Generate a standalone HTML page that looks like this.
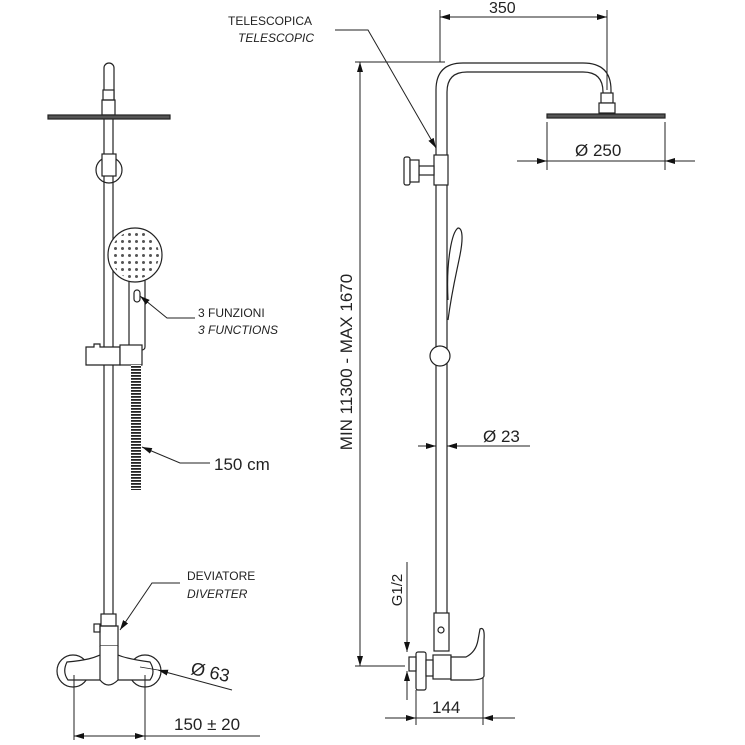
<!DOCTYPE html>
<html><head><meta charset="utf-8"><style>
html,body{margin:0;padding:0;background:#fff;width:745px;height:745px;overflow:hidden}
svg{display:block}
text{font-family:"Liberation Sans",sans-serif;fill:#222}
</style></head><body>
<svg width="745" height="745" viewBox="0 0 745 745" xmlns="http://www.w3.org/2000/svg">
<defs>
<marker id="a" viewBox="0 0 10 6" refX="10" refY="3" markerWidth="10" markerHeight="6" orient="auto-start-reverse" markerUnits="userSpaceOnUse"><path d="M0,0 L10,3 L0,6 z" fill="#111"/></marker>
<pattern id="hose" width="10" height="3" patternUnits="userSpaceOnUse"><rect width="10" height="3" fill="#fff"/><rect width="10" height="1.8" fill="#222"/></pattern>
<pattern id="dots" width="7" height="7" patternUnits="userSpaceOnUse"><circle cx="3.5" cy="3.5" r="1.5" fill="#555"/></pattern>
</defs>
<g fill="none" stroke="#222" stroke-width="1.2">
<path d="M104,100 V68 a5,5 0 0 1 10,0 V100"/>
<rect x="103" y="90" width="11" height="10" fill="#fff"/>
<rect x="102" y="100" width="13" height="15"/>
<rect x="48" y="115" width="122" height="4" fill="#555"/>
<line x1="104" y1="119" x2="104" y2="620"/>
<line x1="113" y1="119" x2="113" y2="620"/>
<circle cx="109" cy="170" r="13" fill="none"/>
<rect x="102" y="154" width="14" height="22" fill="#fff"/>
<rect x="129" y="278" width="16" height="72" rx="3" fill="#fff"/>
<rect x="134" y="290" width="6" height="12" rx="3"/>
<circle cx="135" cy="255" r="27" fill="#fff"/>
<circle cx="135" cy="255" r="24" fill="url(#dots)" stroke="none"/>
<path d="M86,347 h8 v-3 h6 v3 h20 v18 h-34 z" fill="#fff"/>
<rect x="120" y="345" width="22" height="20" fill="#fff"/>
<rect x="131" y="365" width="10" height="125" fill="url(#hose)" stroke="none"/>
<rect x="101" y="614" width="15" height="12" fill="#fff"/>
<rect x="94" y="624" width="6" height="8"/>
<rect x="100" y="626" width="18" height="20"/>
<circle cx="73" cy="671" r="16" fill="#fff"/>
<circle cx="145" cy="671" r="16" fill="#fff"/>
<path d="M67,662 C90,660 95,657 100,655 L118,655 C125,658 135,660 150,662 Q156,672 150,680 L68,680 Q62,672 67,662z" fill="#fff"/>
<path d="M100,646 L100,680 Q108,690 118,680 L118,646" fill="#fff"/>
<path d="M195,318 H167 L140,296" marker-end="url(#a)" stroke-width="1"/>
<path d="M210,463 H180 L142,447" marker-end="url(#a)" stroke-width="1"/>
<path d="M180,583 H152 L120,630" marker-end="url(#a)" stroke-width="1"/>
<path d="M232,690 L158,670" marker-end="url(#a)" stroke-width="1"/>
<path d="M140,667 L158,670" stroke-width="0.8"/>
<line x1="74" y1="675" x2="74" y2="740" stroke-width="1"/>
<line x1="145" y1="675" x2="145" y2="740" stroke-width="1"/>
<line x1="74" y1="736" x2="145" y2="736" marker-start="url(#a)" marker-end="url(#a)" stroke-width="1"/>
<line x1="145" y1="736" x2="260" y2="736" stroke-width="1"/>

<path d="M436,615 V90 Q436,63 463,63 H583 Q611,63 611,90 V95"/>
<path d="M447,615 V92 Q447,72 467,72 H583 Q603,72 603,92 V95"/>
<rect x="601" y="93" width="12" height="10" fill="#fff"/>
<rect x="599" y="103" width="16" height="10" fill="#fff"/>
<rect x="547" y="114" width="118" height="4" fill="#555"/>
<rect x="434" y="155" width="14" height="30" fill="#fff"/>
<rect x="419" y="166" width="15" height="9" fill="#fff"/>
<rect x="404" y="157" width="6" height="28" rx="2" fill="#fff"/>
<rect x="410" y="160" width="9" height="22" fill="#fff"/>
<path d="M448,300 C446,260 452,232 458,228 C463,228 463,240 460,255 C456,275 452,290 448,320" fill="#fff"/>
<circle cx="440" cy="356" r="10" fill="#fff"/>
<rect x="434" y="613" width="15" height="38" fill="#fff"/>
<circle cx="441" cy="630" r="3"/>
<rect x="433" y="655" width="18" height="24" fill="#fff"/>
<rect x="416" y="652" width="10" height="38" rx="2" fill="#fff"/>
<rect x="409" y="657" width="7" height="14" fill="#fff"/>
<rect x="426" y="660" width="7" height="16" fill="#fff"/>
<path d="M451,657 H466 Q476,652 478,640 L480,629 Q485,626 484,640 L484,676 Q483,680 470,680 L451,680 z" fill="#fff"/>
<line x1="355" y1="62" x2="445" y2="62" stroke-width="1"/>
<line x1="355" y1="666" x2="405" y2="666" stroke-width="1"/>
<line x1="360" y1="62" x2="360" y2="666" marker-start="url(#a)" marker-end="url(#a)" stroke-width="1"/>
<line x1="440" y1="10" x2="440" y2="62" stroke-width="1"/>
<line x1="607" y1="10" x2="607" y2="90" stroke-width="1"/>
<line x1="440" y1="17" x2="607" y2="17" marker-start="url(#a)" marker-end="url(#a)" stroke-width="1"/>
<line x1="547" y1="122" x2="547" y2="170" stroke-width="1"/>
<line x1="665" y1="122" x2="665" y2="170" stroke-width="1"/>
<line x1="517" y1="161" x2="547" y2="161" marker-end="url(#a)" stroke-width="1"/>
<line x1="695" y1="161" x2="665" y2="161" marker-end="url(#a)" stroke-width="1"/>
<line x1="547" y1="161" x2="665" y2="161" stroke-width="1"/>
<line x1="418" y1="446" x2="436" y2="446" marker-end="url(#a)" stroke-width="1"/>
<line x1="530" y1="446" x2="447" y2="446" marker-end="url(#a)" stroke-width="1"/>
<path d="M335,30 H368 L436,148" marker-end="url(#a)" stroke-width="1"/>
<line x1="407" y1="562" x2="407" y2="652" marker-end="url(#a)" stroke-width="1"/>
<line x1="407" y1="700" x2="407" y2="671" marker-end="url(#a)" stroke-width="1"/>
<line x1="416" y1="690" x2="416" y2="725" stroke-width="1"/>
<line x1="483" y1="678" x2="483" y2="725" stroke-width="1"/>
<line x1="385" y1="718" x2="416" y2="718" marker-end="url(#a)" stroke-width="1"/>
<line x1="515" y1="718" x2="483" y2="718" marker-end="url(#a)" stroke-width="1"/>
<line x1="416" y1="718" x2="483" y2="718" stroke-width="1"/>
</g>
<text x="198" y="317" font-size="12">3 FUNZIONI</text>
<text x="198" y="334" font-size="12" font-style="italic">3 FUNCTIONS</text>
<text x="214" y="470" font-size="17">150 cm</text>
<text x="187" y="580" font-size="12">DEVIATORE</text>
<text x="187" y="598" font-size="12" font-style="italic">DIVERTER</text>
<text x="190" y="674" font-size="18" transform="rotate(12 190 674)">Ø 63</text>
<text x="174" y="730" font-size="17">150 ± 20</text>
<text x="228" y="25" font-size="12">TELESCOPICA</text>
<text x="238" y="42" font-size="12" font-style="italic">TELESCOPIC</text>
<text x="489" y="13" font-size="16">350</text>
<text x="575" y="156" font-size="17">Ø 250</text>
<text x="483" y="442" font-size="17">Ø 23</text>
<text x="352" y="362" font-size="17" text-anchor="middle" transform="rotate(-90 352 362)">MIN 11300 -  MAX 1670</text>
<text x="402" y="590" font-size="15" text-anchor="middle" transform="rotate(-90 402 590)">G1/2</text>
<text x="432" y="713" font-size="17">144</text>
</svg>
</body></html>
